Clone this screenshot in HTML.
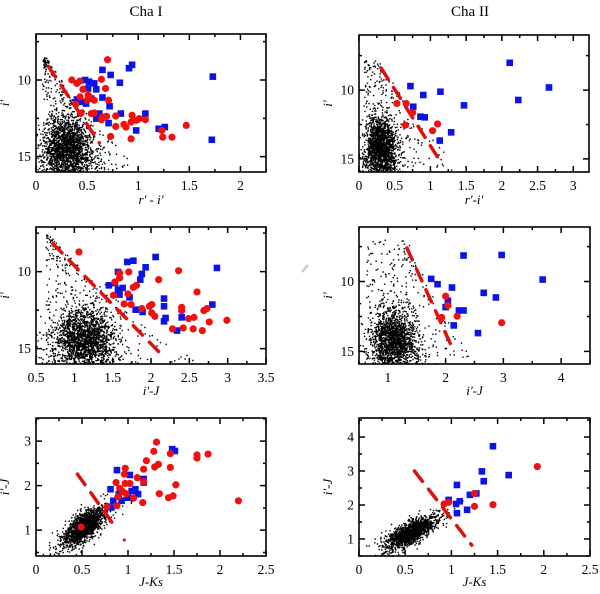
<!DOCTYPE html>
<html><head><meta charset="utf-8">
<style>
html,body{margin:0;padding:0;background:#fff;}
svg{display:block;font-family:"Liberation Serif",serif;}
</style></head>
<body>
<svg id="fig" width="600" height="594" viewBox="0 0 600 594" xmlns="http://www.w3.org/2000/svg">
<text x="146" y="16" font-size="15" text-anchor="middle">Cha I</text>
<text x="470" y="16" font-size="15" text-anchor="middle">Cha II</text>
<line x1="302" y1="272" x2="308" y2="265" stroke="#ccc" stroke-width="2.5"/>
</svg>
<script>
// ---- Panel 1: Cha I, r'-i' vs i'
const p1RedX=[0.70,0.35,0.40,0.43,0.64,0.68,0.46,0.51,0.52,0.57,0.71,0.39,0.44,0.54,0.57,0.65,0.69,0.78,0.64,0.78,0.73,0.93,0.88,0.86,0.94,0.98,1.01,1.07,0.93,1.23,1.24,1.33,1.47,0.50,0.43];
const p1RedY=[8.68,10.0,10.22,10.07,9.96,10.55,10.61,10.99,11.1,11.32,11.32,11.58,12.15,12.19,12.15,12.41,12.37,12.35,12.59,13.03,13.68,13.84,13.07,12.89,12.30,12.63,12.52,12.59,12.74,13.29,13.73,13.73,12.96,11.32,11.1];
const p1BlueX=[0.65,0.73,0.82,0.91,0.94,0.48,0.52,0.57,0.51,0.59,0.40,0.44,0.49,0.54,0.65,0.72,0.59,0.71,0.83,1.07,0.98,1.20,1.26,1.72,1.73,0.62];
const p1BlueY=[9.34,9.67,10.18,9.23,9.01,10.0,10.11,10.22,10.55,10.61,11.27,11.43,11.54,11.21,11.14,11.71,12.52,12.81,12.19,12.19,13.29,13.18,13.07,13.90,9.78,12.19];
// ---- Panel 2: Cha II, r'-i' vs i'
const p2RedX=[0.53,0.66,0.75,0.65,1.03,1.10];
const p2RedY=[10.97,10.97,11.64,12.54,12.95,12.46];
const p2BlueX=[0.72,0.90,1.14,0.76,0.86,0.92,1.47,2.11,2.23,2.66,1.29,1.13];
const p2BlueY=[9.71,10.36,10.12,11.21,11.93,11.98,11.11,8.02,10.72,9.81,13.07,13.67];
// ---- Panel 3: Cha I, i'-J vs i'
const p3RedX=[1.06,1.59,1.71,1.53,1.51,1.70,1.81,1.77,1.65,1.74,1.88,1.98,2.01,2.01,2.05,2.10,2.36,2.40,2.40,2.28,2.42,2.49,2.56,2.55,2.60,2.69,2.73,2.67,2.76,2.99,1.59];
const p3RedY=[8.72,10.09,10.02,10.67,11.54,11.45,10.89,11.02,12.10,12.14,12.40,12.25,12.14,12.68,12.90,10.52,9.94,12.32,12.53,13.72,13.66,13.05,12.97,13.72,11.32,12.53,12.40,13.83,13.27,13.16,10.41];
const p3BlueX=[1.69,1.77,1.93,2.06,1.88,1.86,1.57,1.53,1.45,1.57,1.63,1.59,1.72,1.80,1.89,2.17,2.17,2.19,2.17,2.40,2.34,2.80,2.86];
const p3BlueY=[9.37,9.29,9.72,9.05,10.15,10.52,10.02,10.74,10.89,11.17,11.06,11.49,11.67,12.47,12.62,11.75,12.25,13.01,13.23,12.97,13.83,12.14,9.76];
// ---- Panel 4: Cha II, i'-J vs i'
const p4RedX=[2.00,2.04,1.93,2.20,2.97,1.92];
const p4RedY=[11.05,11.71,12.57,12.48,12.95,12.67];
const p4BlueX=[2.31,2.97,3.68,1.75,1.86,2.11,2.66,2.87,2.04,2.00,2.23,2.31,2.14,2.56];
const p4BlueY=[8.14,8.10,9.86,9.81,10.19,10.43,10.81,11.14,11.38,11.83,12.07,12.07,13.14,13.69];
// ---- Panel 5: Cha I, J-Ks vs i'-J
const p5RedX=[0.49,1.31,1.28,1.33,1.29,1.20,1.17,0.97,0.96,0.87,0.97,0.91,0.94,0.89,0.98,1.10,1.17,1.06,1.16,1.34,1.46,1.46,1.52,1.44,1.49,1.75,1.75,1.87,2.20,0.77,0.88,1.02];
const p5RedY=[1.07,2.98,2.77,2.48,2.42,2.56,2.37,2.39,2.26,2.07,2.05,1.94,1.87,1.75,1.82,2.18,2.09,1.72,1.62,1.82,2.41,2.72,2.02,1.73,1.77,2.62,2.69,2.71,1.66,1.52,1.55,2.05];
const p5BlueX=[0.88,1.02,1.17,1.48,1.51,0.81,0.90,0.84,0.82,0.93,1.04,1.08,1.11,1.17,1.00];
const p5BlueY=[2.35,2.24,2.15,2.82,2.78,1.92,1.81,1.66,1.51,1.66,1.88,1.92,1.81,2.07,1.73];
// ---- Panel 6: Cha II, J-Ks vs i'-J
const p6RedX=[1.93,0.92,0.97,1.25,1.25,1.45];
const p6RedY=[3.13,2.03,2.08,2.34,1.96,2.01];
const p6BlueX=[1.45,1.33,1.35,1.62,1.06,0.97,1.05,1.09,1.20,1.27,1.06,1.17];
const p6BlueY=[3.73,2.99,2.70,2.88,2.59,2.15,2.03,2.11,2.30,2.34,1.76,1.86];
// dashed separation lines [x1,y1,x2,y2] in data units
const sepLine1=[0.12,9.1,0.62,14.1];
const sepLine2=[0.31,8.4,1.16,15.36];
const sepLine3=[0.72,8.18,2.16,15.5];
const sepLine4=[1.33,7.6,2.11,14.7];
const sepLine5=[0.45,2.26,0.88,1.02];
const sepLine6=[0.60,3.0,1.22,0.82];
// field-star cloud parameters (centre x, spread x, centre y, spread y, count)
const fieldCX=[0.30,0.29,1.12,1.10,0.52,0.55];
const fieldSX=[0.12,0.10,0.20,0.20,0.11,0.13];
const fieldCY=[14.5,14.3,14.5,14.3,1.10,1.20];
const fieldSY=[1.1,1.2,1.1,1.2,0.16,0.17];
const fieldN=[2300,2100,2300,2000,1600,1500];

const NS="http://www.w3.org/2000/svg";
const svg=document.getElementById('fig');
function mk(tag,attrs,parent){const e=document.createElementNS(NS,tag);for(const k in attrs)e.setAttribute(k,attrs[k]);(parent||svg).appendChild(e);return e;}
let seed=12345;
function rnd(){seed|=0;seed=seed+0x6D2B79F5|0;let t=Math.imul(seed^seed>>>15,1|seed);t=t+Math.imul(t^t>>>7,61|t)^t;return((t^t>>>14)>>>0)/4294967296;}
function gauss(){let u=rnd()||1e-9,v=rnd();return Math.sqrt(-2*Math.log(u))*Math.cos(2*Math.PI*v);}

const panels=[
 {id:'cha1-ri',box:[36,34,266,172],xr:[0,2.25],yr:[7,16],inv:true,xmaj:0.5,xmin:0.25,xlab:[0,0.5,1,1.5,2],ymaj:[10,15],ymin:2.5,xt:"r' - i'",yt:"i'",xtY:204,red:[p1RedX,p1RedY],blue:[p1BlueX,p1BlueY],line:sepLine1,mag:true},
 {id:'cha2-ri',box:[359,35,589,172],xr:[0,3.22],yr:[6,15.95],inv:true,xmaj:0.5,xmin:0.25,xlab:[0,0.5,1,1.5,2,2.5,3],ymaj:[10,15],ymin:2.5,xt:"r'-i'",yt:"i'",xtY:204,red:[p2RedX,p2RedY],blue:[p2BlueX,p2BlueY],line:sepLine2,mag:true},
 {id:'cha1-ij',box:[36,227,266,364],xr:[0.5,3.5],yr:[7.1,16],inv:true,xmaj:0.5,xmin:0.25,xlab:[0.5,1,1.5,2,2.5,3,3.5],ymaj:[10,15],ymin:2.5,xt:"i'-J",yt:"i'",xtY:395,red:[p3RedX,p3RedY],blue:[p3BlueX,p3BlueY],line:sepLine3,mag:true},
 {id:'cha2-ij',box:[359,227,590,364],xr:[0.5,4.5],yr:[6.1,15.9],inv:true,xmaj:1,xmin:0.5,xlab:[1,2,3,4],ymaj:[10,15],ymin:2.5,xt:"i'-J",yt:"i'",xtY:395,red:[p4RedX,p4RedY],blue:[p4BlueX,p4BlueY],line:sepLine4,mag:true},
 {id:'cha1-jk',box:[36,418,266,556],xr:[0,2.5],yr:[0.42,3.52],inv:false,xmaj:0.5,xmin:0.25,xlab:[0,0.5,1,1.5,2,2.5],ymaj:[1,2,3],ymin:0.5,xt:"J-Ks",yt:"i'-J",xtY:586,red:[p5RedX,p5RedY],blue:[p5BlueX,p5BlueY],line:sepLine5,mag:false},
 {id:'cha2-jk',box:[359,418,590,556],xr:[0,2.5],yr:[0.5,4.56],inv:false,xmaj:0.5,xmin:0.25,xlab:[0,0.5,1,1.5,2,2.5],ymaj:[1,2,3,4],ymin:0.5,xt:"J-Ks",yt:"i'-J",xtY:586,red:[p6RedX,p6RedY],blue:[p6BlueX,p6BlueY],line:sepLine6,mag:false}
];

panels.forEach((p,pi)=>{
 const [L,T,R,B]=p.box;
 const sx=v=>L+(v-p.xr[0])/(p.xr[1]-p.xr[0])*(R-L);
 const sy=v=>p.inv? T+(v-p.yr[0])/(p.yr[1]-p.yr[0])*(B-T) : B-(v-p.yr[0])/(p.yr[1]-p.yr[0])*(B-T);
 const g=mk('g',{});
 
 
 const cp=mk('clipPath',{id:'cp'+pi},g);mk('rect',{x:L,y:T,width:R-L,height:B-T},cp);
 const fg=mk('g',{'clip-path':'url(#cp'+pi+')',fill:'#000'},g);
 
 
 let path='';
 const n=fieldN[pi];
 const ln=p.line;
 const lineX=y=>ln[0]+(y-ln[1])/(ln[3]-ln[1])*(ln[2]-ln[0]);
 for(let i=0;i<n;i++){
  let x,y;
  if(p.mag){
   if(i<n*0.88){y=fieldCY[pi]+gauss()*fieldSY[pi];x=fieldCX[pi]+gauss()*fieldSX[pi]*(1+0.2*Math.max(0,y-fieldCY[pi]));}
   else{y=ln[1]-0.6+rnd()*(p.yr[1]-ln[1]+0.6);const x0=p.xr[0]+(fieldCX[pi]-p.xr[0])*0.2;const x1=lineX(y)+fieldSX[pi]*(0.3+Math.max(0,y-12)*0.4);x=x0+rnd()*(x1-x0);}
  }else{
   const d=gauss()*fieldSX[pi]*(i%7==0?1.7:1);x=fieldCX[pi]+d;y=fieldCY[pi]+d*1.25+gauss()*fieldSY[pi];
  }
  const px=sx(x),py=sy(y);
  path+='M'+px.toFixed(1)+' '+py.toFixed(1)+'h1.4v1.4h-1.4z';
 }
 mk('path',{d:path},fg);
 const sl=mk('line',{x1:sx(ln[0]),y1:sy(ln[1]),x2:sx(ln[2]),y2:sy(ln[3]),stroke:'#e01010','stroke-width':3.5,'stroke-dasharray':'13 10','stroke-linecap':'round'},g);
 
 
 p.blue[0].forEach((v,i)=>{
  const r=mk('rect',{x:sx(v)-3.3,y:sy(p.blue[1][i])-3.3,width:6.6,height:6.6,fill:'#0a14e6'},g);
  
  
 });
 p.red[0].forEach((v,i)=>{
  const c=mk('circle',{cx:sx(v),cy:sy(p.red[1][i]),r:3.6,fill:'#f01010'},g);
  
  
 });
 if(pi===4){const c=mk('circle',{cx:sx(0.96),cy:sy(0.78),r:1.6,fill:'#f01010'},g);}
 const fr=mk('rect',{x:L,y:T,width:R-L,height:B-T,fill:'none',stroke:'#000','stroke-width':1.6},g);
 
 
 let tk='';
 for(let v=Math.ceil(p.xr[0]/p.xmin-1e-6)*p.xmin;v<=p.xr[1]+1e-6;v+=p.xmin){
  const isMaj=Math.abs(v/p.xmaj-Math.round(v/p.xmaj))<1e-6;const len=isMaj?6:3;const x=sx(v);
  tk+='M'+x+' '+B+'v'+(-len)+'M'+x+' '+T+'v'+len;
 }
 for(let v=Math.ceil(p.yr[0]/p.ymin-1e-6)*p.ymin;v<=p.yr[1]+1e-6;v+=p.ymin){
  const isMaj=p.ymaj.some(m=>Math.abs(m-v)<1e-6);const len=isMaj?6:3;const y=sy(v);
  tk+='M'+L+' '+y+'h'+len+'M'+R+' '+y+'h'+(-len);
 }
 const tp=mk('path',{d:tk,stroke:'#000','stroke-width':1.5,fill:'none'},g);
 
 
 p.xlab.forEach(v=>{const t=mk('text',{x:sx(v),y:B+18,'font-size':13.5,'text-anchor':'middle'},g);t.textContent=String(v);
  });
 p.ymaj.forEach(v=>{const t=mk('text',{x:L-5,y:sy(v)+4.5,'font-size':13.5,'text-anchor':'end'},g);t.textContent=String(v);
  });
 const xt=mk('text',{x:(L+R)/2,y:p.xtY,'font-size':13,'font-style':'italic','text-anchor':'middle'},g);xt.textContent=p.xt;
 
 const yx=L-27,yy=(T+B)/2;
 const yt=mk('text',{x:yx,y:yy,'font-size':13,'font-style':'italic','text-anchor':'middle',transform:'rotate(-90 '+yx+' '+yy+')'},g);yt.textContent=p.yt;
 
});
</script>
</body></html>
